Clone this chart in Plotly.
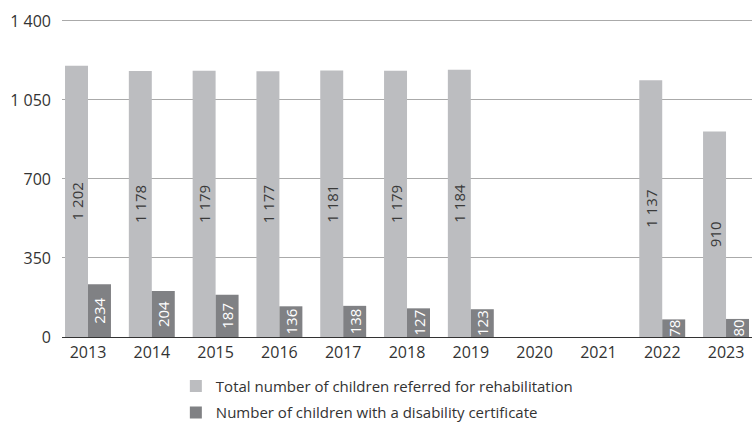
import plotly.graph_objects as go

years = ["2013", "2014", "2015", "2016", "2017", "2018", "2019", "2020", "2021", "2022", "2023"]
total_referred = [1202, 1178, 1179, 1177, 1181, 1179, 1184, None, None, 1137, 910]
disability_cert = [234, 204, 187, 136, 138, 127, 123, None, None, 78, 80]
y_ticks = [0, 350, 700, 1050, 1400]

FONT = "Open Sans"
fig = go.Figure()
fig.add_trace(go.Bar(
    x=years, y=total_referred, name="Total number of children referred for rehabilitation",
    legendgroup="a",
    marker=dict(color="#bcbdc0", line=dict(width=0)),
    texttemplate="%{y:,}", textposition="inside", insidetextanchor="middle",
    constraintext="none",
    textangle=-90, textfont=dict(color="#3a3a3a", size=15, family=FONT),
))
fig.add_trace(go.Bar(
    x=years, y=disability_cert, name="Number of children with a disability certificate",
    legendgroup="b",
    marker=dict(color="#808184", line=dict(width=0)),
    texttemplate="%{y:,}", textposition="inside", insidetextanchor="middle",
    constraintext="none",
    textangle=-90, textfont=dict(color="#ffffff", size=15, family=FONT),
))
fig.update_layout(
    width=752, height=425,
    margin=dict(l=62, r=0, t=18, b=88, autoexpand=False),
    paper_bgcolor="white", plot_bgcolor="white",
    barmode="group", bargap=0.28, bargroupgap=0,
    separators=", ",
    font=dict(family=FONT, size=15, color="#333333"),
    showlegend=True,
    legend=dict(orientation="v", x=0.165, y=-0.103, xanchor="left", yanchor="top",
                font=dict(size=15, color="#333333", family=FONT),
                itemwidth=30, tracegroupgap=4, bgcolor="rgba(0,0,0,0)"),
)
fig.update_xaxes(type="category", range=[-0.4075, 10.407], showgrid=False,
                 ticks="", showline=False, tickfont=dict(size=16),
                 ticklabelstandoff=4)
fig.update_yaxes(range=[0, 1413], tickvals=y_ticks, tickformat=",",
                 showgrid=True, gridcolor="#aaaaaa", gridwidth=1,
                 zeroline=True, zerolinecolor="#333333", zerolinewidth=1,
                 ticklabelstandoff=10, tickfont=dict(size=16))
fig.write_html("out.html", config={"displayModeBar": False},
               post_script="document.body.style.margin='0';document.body.style.overflow='hidden';")
